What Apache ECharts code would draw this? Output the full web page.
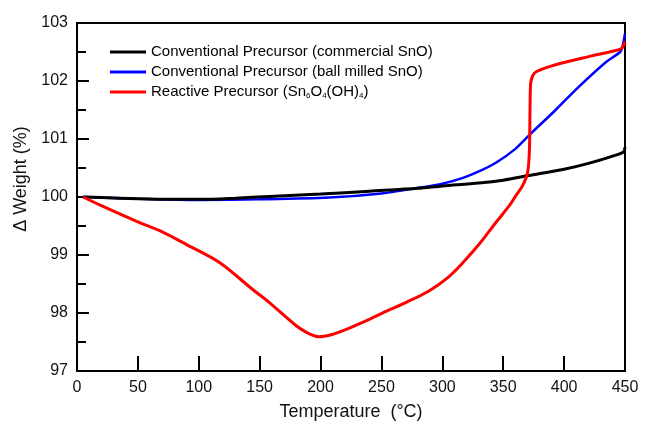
<!DOCTYPE html>
<html>
<head>
<meta charset="utf-8">
<script src="https://cdn.jsdelivr.net/npm/echarts@6/dist/echarts.min.js"></script>
<style>
  html, body { margin: 0; padding: 0; background: #fff; }
  #chart { width: 645px; height: 426px; }
</style>
</head>
<body>
<div id="chart"></div>
<script>
// temperature (°C) / weight change (%)
const blackX = [5, 20, 50, 76, 100, 130, 158, 200, 240, 280, 300, 330, 350, 371, 400, 420, 445, 449, 450]
const blackY = [100.0, 99.99, 99.97, 99.96, 99.96, 99.98, 100.01, 100.05, 100.10, 100.15, 100.19, 100.24, 100.29, 100.37, 100.48, 100.58, 100.74, 100.78, 100.86]

const blueX = [5, 50, 100, 150, 207, 250, 281, 300, 317, 330, 344, 360, 372, 393, 412, 434, 446, 448, 450]
const blueY = [100.0, 99.97, 99.95, 99.96, 99.99, 100.06, 100.16, 100.23, 100.33, 100.44, 100.59, 100.83, 101.08, 101.50, 101.90, 102.32, 102.50, 102.60, 102.82]

const redX = [5, 20, 49, 70, 90, 117, 144, 158, 180, 190, 199, 208, 218, 240, 255, 270, 289, 305, 317, 330, 344, 355, 360, 366, 370, 371.5, 372, 372.5, 374, 377, 393, 420, 445, 448, 450]
const redY = [100.0, 99.85, 99.58, 99.40, 99.18, 98.87, 98.41, 98.18, 97.78, 97.65, 97.59, 97.62, 97.69, 97.89, 98.04, 98.18, 98.38, 98.62, 98.87, 99.18, 99.56, 99.85, 100.01, 100.20, 100.42, 100.80, 101.50, 101.95, 102.08, 102.16, 102.28, 102.42, 102.54, 102.58, 102.68]

const seriesNames = ['Conventional Precursor (commercial SnO)', 'Conventional Precursor (ball milled SnO)', 'Reactive Precursor']

function pairs(xs, ys) {
  return xs.map((x, i) => [x, ys[i]])
}

const chart = echarts.init(document.getElementById('chart'))
const font = 'Liberation Sans, Arial, sans-serif'

const option = {
  animation: false,
  textStyle: { fontFamily: font },
  grid: {
    left: 77, right: 20, top: 23, bottom: 54,
    show: true, borderColor: '#000', borderWidth: 2
  },
  legend: {
    orient: 'vertical',
    left: 105, top: 39,
    itemWidth: 36, itemHeight: 3, itemGap: 4,
    icon: 'rect',
    data: seriesNames,
    textStyle: {
      fontFamily: font, fontSize: 15, color: '#000', lineHeight: 16,
      rich: {
        sub: { fontFamily: font, fontSize: 8, color: '#000', verticalAlign: 'bottom', lineHeight: 16, padding: [7, 0, 0, 0] }
      }
    },
    formatter: function (name) {
      if (name === 'Reactive Precursor') {
        return 'Reactive Precursor (Sn{sub|6}O{sub|4}(OH){sub|4})'
      }
      return name
    }
  },
  xAxis: {
    type: 'value',
    min: 0, max: 450, interval: 50,
    name: 'Temperature  (°C)',
    nameLocation: 'middle',
    nameGap: 32,
    nameTextStyle: { fontFamily: font, fontSize: 18, color: '#111' },
    axisLine: { lineStyle: { color: '#000', width: 2 } },
    axisTick: { inside: true, length: 15, lineStyle: { color: '#000', width: 2 } },
    axisLabel: { fontFamily: font, fontSize: 16, color: '#111', margin: 9 },
    splitLine: { show: false }
  },
  yAxis: {
    type: 'value',
    min: 97, max: 103, interval: 1,
    name: 'Δ Weight (%)',
    nameLocation: 'middle',
    nameGap: 46,
    nameTextStyle: { fontFamily: font, fontSize: 18, color: '#111', padding: [0, 0, 0, 36] },
    axisLine: { lineStyle: { color: '#000', width: 2 } },
    axisTick: { inside: true, length: 12, lineStyle: { color: '#000', width: 2 } },
    minorTick: { show: true, splitNumber: 2, length: 9, lineStyle: { color: '#000', width: 2 } },
    axisLabel: { fontFamily: font, fontSize: 16, color: '#111', margin: 9 },
    splitLine: { show: false }
  },
  series: [
    {
      name: seriesNames[1],
      type: 'line',
      data: pairs(blueX, blueY),
      showSymbol: false,
      smooth: 0.3,
      itemStyle: { color: '#0000ff' },
      lineStyle: { color: '#0000ff', width: 2.5 }
    },
    {
      name: seriesNames[0],
      type: 'line',
      data: pairs(blackX, blackY),
      showSymbol: false,
      smooth: 0.3,
      itemStyle: { color: '#000' },
      lineStyle: { color: '#000', width: 3 }
    },
    {
      name: seriesNames[2],
      type: 'line',
      data: pairs(redX, redY),
      showSymbol: false,
      smooth: 0.3,
      itemStyle: { color: '#ff0000' },
      lineStyle: { color: '#ff0000', width: 3 }
    }
  ]
}

chart.setOption(option)
</script>
</body>
</html>
